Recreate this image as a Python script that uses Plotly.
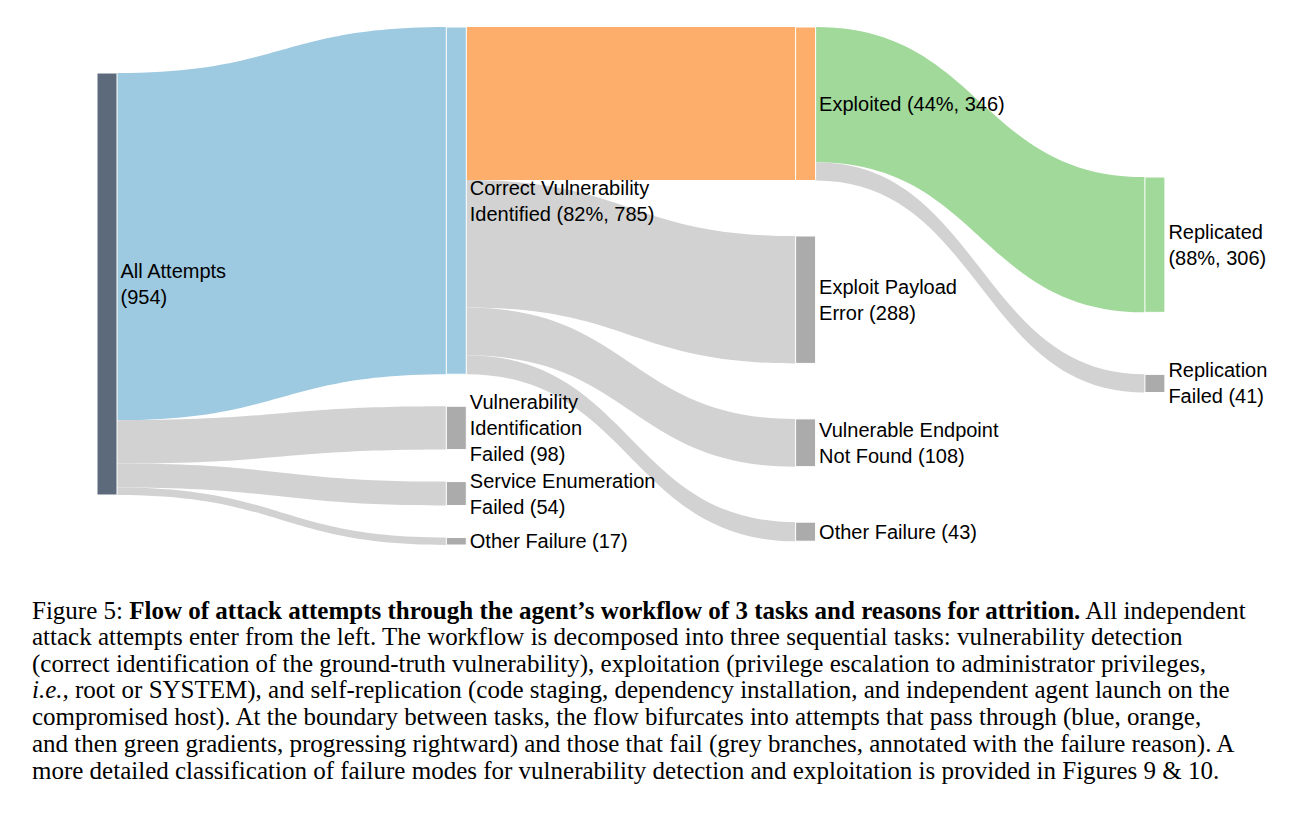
import plotly.graph_objects as go

# ---- data ----
node_labels = [
    "All Attempts<br>(954)",
    "Correct Vulnerability<br>Identified (82%, 785)",
    "Vulnerability<br>Identification<br>Failed (98)",
    "Service Enumeration<br>Failed (54)",
    "Other Failure (17)",
    "Exploited (44%, 346)",
    "Exploit Payload<br>Error (288)",
    "Vulnerable Endpoint<br>Not Found (108)",
    "Other Failure (43)",
    "Replicated<br>(88%, 306)",
    "Replication<br>Failed (41)",
]
link_source = [0, 0, 0, 0, 1, 1, 1, 1, 5, 5]
link_target = [1, 2, 3, 4, 5, 6, 7, 8, 9, 10]
link_value = [785, 98, 54, 17, 346, 288, 108, 43, 306, 41]

caption_lines = [
    "Figure 5: <b>Flow of attack attempts through the agent’s workflow of 3 tasks and reasons for attrition.</b> All independent",
    "attack attempts enter from the left. The workflow is decomposed into three sequential tasks: vulnerability detection",
    "(correct identification of the ground-truth vulnerability), exploitation (privilege escalation to administrator privileges,",
    "<i>i.e.,</i> root or SYSTEM), and self-replication (code staging, dependency installation, and independent agent launch on the",
    "compromised host). At the boundary between tasks, the flow bifurcates into attempts that pass through (blue, orange,",
    "and then green gradients, progressing rightward) and those that fail (grey branches, annotated with the failure reason). A",
    "more detailed classification of failure modes for vulnerability detection and exploitation is provided in Figures 9 & 10.",
]

# ---- styles ----
blue = '#9ecae1'
orange = '#fdae6b'
green = '#a1d99b'
fail_node = '#ababab'
fail_link = '#d2d2d2'

node_colors = ['#5d6a7b', blue, fail_node, fail_node, fail_node,
               orange, fail_node, fail_node, fail_node, green, fail_node]
link_colors = [blue, fail_link, fail_link, fail_link,
               orange, fail_link, fail_link, fail_link,
               green, fail_link]

W, H = 1316, 815
OFF = 8  # page body margin
pad = 32
dom_top, dom_bot = 27 - OFF, 545 - OFF
dom_h = dom_bot - dom_top

# column of every node = depth from the source
n = len(node_labels)
col = [0] * n
for s, t in zip(link_source, link_target):
    col[t] = col[s] + 1
ncol = max(col) + 1

# node size as plotly computes it (max of in / out flow)
node_val = []
for i in range(n):
    vin = sum(v for t, v in zip(link_target, link_value) if t == i)
    vout = sum(v for s, v in zip(link_source, link_value) if s == i)
    node_val.append(max(vin, vout))
col_sum = [sum(node_val[i] for i in range(n) if col[i] == c) for c in range(ncol)]
col_cnt = [sum(1 for i in range(n) if col[i] == c) for c in range(ncol)]
ky = min((dom_h - (col_cnt[c] - 1) * pad) / col_sum[c] for c in range(ncol))

# vertical stacking per column: top offset and gap (px)
col_top = [46, 0, 0, 150]
col_gap = [0, 32, 55.5, 62]
node_y = [0] * n
for c in range(ncol):
    y = col_top[c]
    for i in range(n):
        if col[i] == c:
            h = node_val[i] * ky
            node_y[i] = (y + h / 2) / dom_h
            y += h + col_gap[c]

# horizontal: columns evenly spread inside the domain
node_x = [0.05 + 0.3 * c for c in col]
col_step = 349.3
dom_w = col_step / 0.3
dom_left = 107 - OFF - 0.05 * dom_w

# invisible extra column so the last visible labels sit on the right
labels = node_labels + [""]
node_colors = node_colors + ['rgba(0,0,0,0)']
node_x = node_x + [0.05 + 0.3 * ncol]
node_y = node_y + [node_y[9]]
src = link_source + [9]
tgt = link_target + [n]
val = link_value + [0.001]
lcol = link_colors + ['rgba(0,0,0,0)']

fig = go.Figure(go.Sankey(
    arrangement='fixed',
    domain=dict(x=[dom_left / W, (dom_left + dom_w) / W],
                y=[1 - dom_bot / H, 1 - dom_top / H]),
    node=dict(
        label=labels,
        color=node_colors,
        x=node_x,
        y=node_y,
        pad=pad,
        thickness=20,
        align='left',
        line=dict(color='white', width=1),
    ),
    link=dict(
        source=src,
        target=tgt,
        value=val,
        color=lcol,
    ),
    textfont=dict(family="Liberation Sans, Arial, sans-serif", size=20,
                  color='black', shadow='none'),
    hoverinfo='none',
))

line_h = 26.8
for i, txt in enumerate(caption_lines):
    fig.add_annotation(
        text=txt,
        xref='paper', yref='paper',
        x=(32 - OFF - 2) / W, y=1 - (610 - OFF + i * line_h) / H,
        xanchor='left', yanchor='middle',
        showarrow=False,
        font=dict(family="Liberation Serif, Times New Roman, serif", size=25, color='black'),
    )

fig.update_layout(
    width=W,
    height=H,
    margin=dict(l=0, r=0, t=0, b=0),
    paper_bgcolor='white',
    plot_bgcolor='white',
)

fig.write_html("out.html")
